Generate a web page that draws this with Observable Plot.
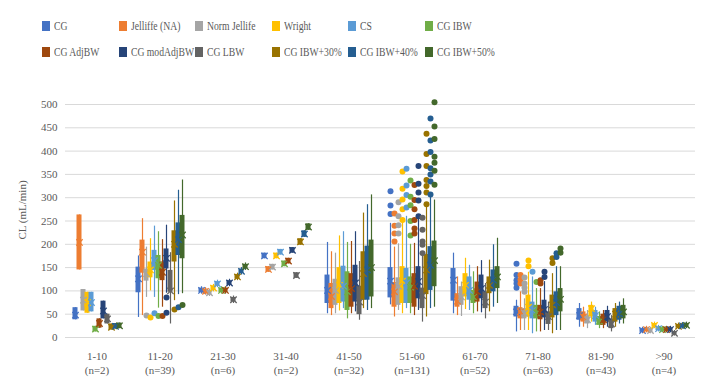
<!DOCTYPE html>
<html><head><meta charset="utf-8">
<script src="https://cdn.jsdelivr.net/npm/d3@7"></script>
<script src="https://cdn.jsdelivr.net/npm/@observablehq/plot@0.6"></script>
<style>
body{margin:0;background:#fff;font-family:"Liberation Serif","Times New Roman",Times,serif;}
#wrap{position:relative;width:705px;height:380px;overflow:hidden;}
#legend{position:relative;height:60px;}
.item{position:absolute;display:flex;align-items:center;font-size:11.5px;color:#595959;white-space:nowrap;transform:translateY(-50%);}
.item .t{display:inline-block;transform:scaleX(0.84);transform-origin:left center;}
.sw{width:8px;height:10px;margin-right:4px;}
#ylab{position:absolute;left:22px;top:210px;transform:translate(-50%,-50%) rotate(-90deg);font-size:11px;color:#595959;white-space:nowrap;}
</style></head>
<body><div id="wrap"><div id="legend"></div><div id="chart"></div><div id="ylab">CL (mL/min)</div></div>
<script>
const groups = ["1-10","11-20","21-30","31-40","41-50","51-60","61-70","71-80","81-90",">90"];
const groupN = [2,39,6,2,32,131,52,63,43,4];
const series = ["CG","Jelliffe (NA)","Norm Jellife","Wright","CS","CG IBW","CG AdjBW","CG modAdjBW","CG LBW","CG IBW+30%","CG IBW+40%","CG IBW+50%"];
const colors = ["#4472C4","#ED7D31","#A5A5A5","#FFC000","#5B9BD5","#70AD47","#9E480E","#264478","#636363","#997300","#255E91","#43682B"];
const yTicks = [0,50,100,150,200,250,300,350,400,450,500];

const lowWhisker = [
 [38,145,57,52,55,12,20,40,29,16,18,19],
 [43,47,86,100,86,63,65,95,29,79,92,94],
 [93,91,88,98,107,93,93,109,73,122,134,144],
 [169,140,145,169,177,152,158,181,127,198,215,230],
 [51,47,51,57,62,40,51,55,37,62,58,62],
 [70,44,58,51,62,51,47,58,33,44,62,65],
 [51,47,45,60,58,51,55,53,40,55,65,73],
 [12,15,15,15,8,12,12,15,15,8,15,15],
 [22,22,19,33,26,19,19,22,12,22,29,29],
 [8,10,8,19,12,10,10,10,3,17,18,19]
];
const q1 = [
 [38,145,57,52,55,12,20,40,29,16,18,19],
 [96,138,121,128,144,126,122,147,97,162,176,169],
 [96,94,91,101,110,96,96,112,76,125,137,147],
 [169,140,145,169,177,152,158,181,127,198,215,230],
 [73,62,69,73,76,58,65,76,49,80,80,87],
 [85,65,69,73,73,73,65,83,62,92,101,109],
 [78,65,69,87,80,73,76,83,62,94,98,105],
 [44,40,40,44,40,40,38,42,28,42,47,55],
 [37,33,29,44,33,26,26,33,19,33,37,40],
 [11,13,11,22,15,13,13,13,5,20,21,22]
];
const q3 = [
 [64,263,103,97,97,24,40,78,50,29,30,31],
 [151,209,147,162,187,176,162,190,144,229,246,262],
 [106,104,101,111,120,106,106,122,86,135,147,157],
 [181,152,157,181,189,164,170,193,139,212,229,244],
 [134,116,125,150,153,141,137,155,110,184,196,209],
 [150,118,128,152,148,130,137,152,106,178,195,207],
 [148,94,109,137,130,101,119,134,98,130,145,152],
 [67,64,62,91,76,69,69,80,55,91,98,105],
 [62,55,47,69,58,45,50,58,40,62,67,69],
 [19,21,19,30,23,21,21,21,13,28,29,30]
];
const highWhisker = [
 [64,263,103,97,97,24,40,78,50,29,30,31],
 [175,255,194,212,239,227,210,241,182,293,316,338],
 [109,107,104,114,123,109,109,125,89,138,150,160],
 [181,152,157,181,189,164,170,193,139,212,229,244],
 [204,184,181,218,227,204,206,227,163,267,285,306],
 [245,194,201,253,260,200,202,263,177,285,301,295],
 [181,130,119,170,155,141,152,165,116,166,199,213],
 [80,98,83,140,130,105,105,120,76,137,152,152],
 [73,65,58,76,65,55,58,67,47,73,76,83],
 [22,24,22,33,26,24,24,24,15,31,32,33]
];
const mean = [
 [48,204,80,75,75,18,30,57,40,22,24,25],
 [126,183,137,145,165,155,140,170,100,200,210,220],
 [101,99,96,106,115,101,101,117,81,130,142,152],
 [175,146,151,175,183,158,164,187,133,205,222,237],
 [101,88,101,112,110,98,105,117,76,137,145,150],
 [121,98,110,121,117,108,110,120,90,145,155,165],
 [123,78,87,112,101,87,98,105,76,112,123,130],
 [55,55,52,65,58,53,55,60,45,70,75,82],
 [47,44,38,62,47,35,38,45,29,50,51,55],
 [15,17,15,26,19,17,17,17,9,24,25,26]
];
const outliers = [
 [[],[],[],[],[],[],[],[],[],[],[],[]],
 [[],[],[47],[43],[52],[46],[46],[86,53],[],[60],[65],[70]],
 [[],[],[],[],[],[],[],[],[],[],[],[]],
 [[],[],[],[],[],[],[],[],[],[],[],[]],
 [[],[],[],[],[],[],[],[],[],[],[],[]],
 [[265,283,314],[206,223,240,266],[223,241,260,290],[252,275,296,319,356],[279,306,326,362],[219,250,284,302,337],[223,234,252,275,295,327],[260,294,311,330,368],[181,199,206,231,257],[286,311,325,338,368,394,437],[307,335,350,363,398,423,470],[328,358,375,388,426,453,505]],
 [[],[],[],[],[],[],[],[],[],[],[],[]],
 [[107,116,123,134,158],[116,124,134],[98,107,116,129],[153,165],[141],[119],[116,123],[130,141],[],[160,170],[173,181],[182,191]],
 [[],[],[],[],[],[],[],[],[],[],[],[]],
 [[],[],[],[],[],[],[],[],[],[],[],[]]
];

// legend
const legend = document.getElementById("legend");
series.forEach((s, i) => {
  const el = document.createElement("div");
  el.className = "item";
  el.style.left = (42 + (i % 6) * 76.6) + "px";
  el.style.top = (26 + Math.floor(i / 6) * 26) + "px";
  el.innerHTML = `<span class="sw" style="background:${colors[i]}"></span><span class="t">${s}</span>`;
  legend.appendChild(el);
});

const rows = groups.flatMap((g, i) => series.map((s, j) => ({
  group: g, series: s, lo: lowWhisker[i][j], q1: q1[i][j], q3: q3[i][j], hi: highWhisker[i][j], mean: mean[i][j]
})));
const outRows = groups.flatMap((g, i) => series.flatMap((s, j) => outliers[i][j].map(v => ({group: g, series: s, value: v}))));

const chart = Plot.plot({
  width: 705, height: 320,
  marginLeft: 63, marginRight: 9, marginTop: 44, marginBottom: 43,
  style: {fontFamily: '"Liberation Serif","Times New Roman",Times,serif', fontSize: "11px", color: "#595959", background: "transparent"},
  fx: {domain: groups, padding: 0, label: null},
  x: {domain: series, paddingInner: 0, paddingOuter: 0.82, axis: null},
  y: {domain: [0, 500], label: null},
  color: {domain: series, range: colors},
  marks: [
    Plot.gridY(yTicks, {stroke: "#d9d9d9", strokeOpacity: 1}),
    Plot.axisY(yTicks, {tickSize: 0, tickPadding: 8, label: null}),
    Plot.axisFx({anchor: "bottom", tickSize: 0, tickPadding: 12, label: null, lineHeight: 1.3,
      tickFormat: d => `${d}\n(n=${groupN[groups.indexOf(d)]})`}),
    Plot.ruleX(rows, {fx: "group", x: "series", y1: "lo", y2: "hi", stroke: "series", strokeWidth: 1.2}),
    Plot.barY(rows, {fx: "group", x: "series", y1: "q1", y2: "q3", fill: "series", insetLeft: -0.5, insetRight: -0.5}),
    Plot.dot(rows, {fx: "group", x: "series", y: "mean", symbol: "times", stroke: "series", r: 3, strokeWidth: 1.3}),
    Plot.dot(outRows, {fx: "group", x: "series", y: "value", fill: "series", r: 3})
  ]
});
document.getElementById("chart").appendChild(chart);
</script></body></html>
